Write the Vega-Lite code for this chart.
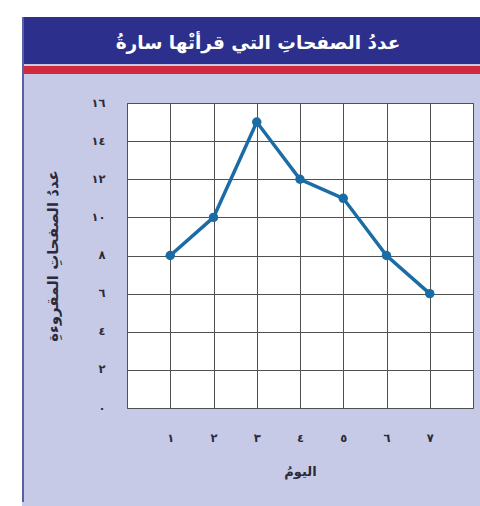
{
  "$schema": "https://vega.github.io/schema/vega-lite/v6.json",
  "background": "#c7cae7",
  "padding": 0,
  "autosize": {"type": "pad"},
  "config": {"view": {"stroke": null}, "concat": {"spacing": 0}},
  "spacing": 0,
  "data": {"values": [
    {"day": 1, "pages": 8},
    {"day": 2, "pages": 10},
    {"day": 3, "pages": 15},
    {"day": 4, "pages": 12},
    {"day": 5, "pages": 11},
    {"day": 6, "pages": 8},
    {"day": 7, "pages": 6}
  ]},
  "hconcat": [
    {"data": {"values": [{}]}, "width": 22, "height": 506, "mark": {"type": "text", "text": ""}, "view": {"fill": "white", "stroke": null}},
    {"spacing": 0, "vconcat": [
      {"data": {"values": [{}]}, "width": 2, "height": 17, "mark": {"type": "text", "text": ""}, "view": {"fill": "white", "stroke": null}},
      {"data": {"values": [{}]}, "width": 2, "height": 485, "mark": {"type": "text", "text": ""}, "view": {"fill": "#5a5ea6", "stroke": null}},
      {"data": {"values": [{}]}, "width": 2, "height": 4, "mark": {"type": "text", "text": ""}, "view": {"fill": "white", "stroke": null}}
    ]},
    {"spacing": 0, "vconcat": [
      {"data": {"values": [{}]}, "width": 456, "height": 17, "mark": {"type": "text", "text": ""}, "view": {"fill": "white", "stroke": null}},
      {"data": {"values": [{}]}, "width": 456, "height": 47, "mark": {"type": "text", "text": "عددُ الصفحاتِ التي قرأتْها سارةُ", "font": "DejaVu Sans", "fontWeight": "bold", "fontSize": 18.5, "color": "white", "dx": 6, "dy": 2}, "view": {"fill": "#2c2f8c", "stroke": null}},
      {"data": {"values": [{}]}, "width": 456, "height": 8, "mark": {"type": "text", "text": ""}, "view": {"fill": "#d02a3c", "stroke": null}},
      {"data": {"values": [{}]}, "width": 456, "height": 21, "mark": {"type": "text", "text": ""}, "view": {"stroke": null}},
      {"spacing": 0, "hconcat": [
        {"data": {"values": [{}]}, "width": 21, "height": 305, "mark": {"type": "text", "text": ""}, "view": {"stroke": null}},
        {
          "width": 346,
          "height": 305,
          "view": {"fill": "white", "stroke": "#666666"},
          "encoding": {
            "x": {"field": "day", "type": "quantitative", "scale": {"domain": [0, 8], "nice": false},
              "axis": {"values": [0, 1, 2, 3, 4, 5, 6, 7, 8], "grid": true, "gridColor": "#505050", "gridOpacity": 1, "gridWidth": 1, "ticks": false, "domain": false,
                "labelExpr": "['','١','٢','٣','٤','٥','٦','٧',''][datum.value]", "labelFlush": false, "labelOverlap": false,
                "labelFont": "DejaVu Sans", "labelFontSize": 11.5, "labelFontWeight": "bold", "labelColor": "#2a2a3a", "labelPadding": 24,
                "title": "اليومُ", "titleFont": "DejaVu Sans", "titleFontSize": 13, "titleFontWeight": "bold", "titleColor": "#2a2a3a", "titlePadding": 22}},
            "y": {"field": "pages", "type": "quantitative", "scale": {"domain": [0, 16], "nice": false},
              "axis": {"values": [0, 2, 4, 6, 8, 10, 12, 14, 16], "grid": true, "gridColor": "#505050", "gridOpacity": 1, "gridWidth": 1, "ticks": false, "domain": false,
                "labelExpr": "['٠','','٢','','٤','','٦','','٨','','١٠','','١٢','','١٤','','١٦'][datum.value]", "labelFlush": false, "labelOverlap": false,
                "labelFont": "DejaVu Sans", "labelFontSize": 11.5, "labelFontWeight": "bold", "labelColor": "#2a2a3a", "labelPadding": 22,
                "title": "عددُ الصفحاتِ المقروءةِ", "titleFont": "DejaVu Sans", "titleFontSize": 15, "titleFontWeight": "bold", "titleColor": "#2a2a3a", "titlePadding": 30}}
          },
          "layer": [
            {"mark": {"type": "line", "color": "#1b6ca5", "strokeWidth": 3.5}},
            {"mark": {"type": "point", "filled": true, "color": "#1b6ca5", "size": 90, "opacity": 1}}
          ]
        }
      ]},
      {"data": {"values": [{}]}, "width": 456, "height": 25, "mark": {"type": "text", "text": ""}, "view": {"stroke": null}},
      {"data": {"values": [{}]}, "width": 456, "height": 2, "mark": {"type": "text", "text": ""}, "view": {"fill": "#5a5ea6", "stroke": null}},
      {"data": {"values": [{}]}, "width": 456, "height": 4, "mark": {"type": "text", "text": ""}, "view": {"fill": "white", "stroke": null}}
    ]}
  ]
}
